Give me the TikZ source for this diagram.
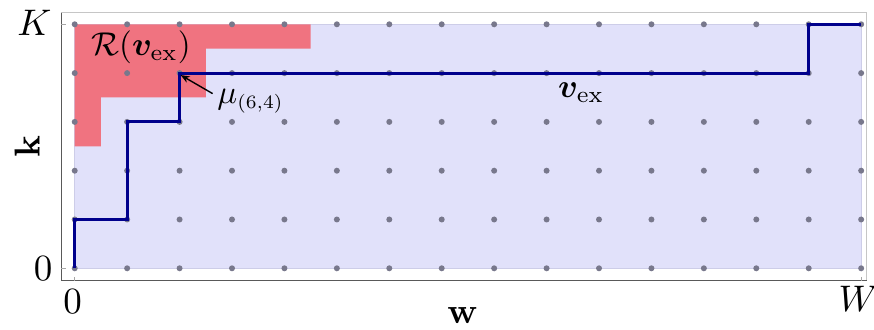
\documentclass[tikz,border=0pt]{standalone}
\usepackage{amsmath}
\usepackage{bm}
\usepackage{graphicx}
\usetikzlibrary{arrows.meta}
\definecolor{lav}{RGB}{225,225,250}
\definecolor{lavedge}{RGB}{205,205,232}
\definecolor{redreg}{RGB}{240,115,128}
\definecolor{dotc}{RGB}{120,120,140}
\definecolor{pathc}{RGB}{0,0,140}
\begin{document}
\begin{tikzpicture}[x=52.43pt,y=48.8pt,
  lbl/.style={font=\normalsize, scale=3.3, inner sep=0pt},
  ticklbl/.style={font=\normalsize, scale=3.7, inner sep=0pt},
  axlbl/.style={font=\normalsize, scale=3.6, inner sep=0pt},
  tickline/.style={gray!70, line width=0.6pt},
  axisdark/.style={black!65, line width=1pt},
  axislight/.style={gray!45, line width=0.8pt}]
\useasboundingbox (-1.425,-1.264) rectangle (15.245,5.498);
% regions
\fill[lav, draw=lavedge, line width=0.8pt] (0,0) rectangle (15,5);
\fill[redreg] (0,5) -- (4.5,5) -- (4.5,4.5) -- (2.5,4.5) -- (2.5,3.5) -- (0.5,3.5) -- (0.5,2.5) -- (0,2.5) -- cycle;
% frame
\draw[axislight] (-0.261,5.238) -- (15.106,5.238) -- (15.106,-0.254);
\draw[axisdark] (-0.261,5.238) -- (-0.261,-0.254) -- (15.106,-0.254);
\draw[tickline] (-0.261,5) -- (-0.17,5);
\draw[tickline] (-0.261,0) -- (-0.17,0);
\draw[tickline] (0,-0.254) -- (0,-0.17);
\draw[tickline] (15,-0.254) -- (15,-0.17);
% dots
\foreach \i in {0,...,15} \foreach \j in {0,...,5} \fill[dotc] (\i,\j) circle (3pt);
% path
\draw[pathc, line width=3.1pt, line join=miter] (0,0) |- (1,1) |- (2,3) |- (14,4) |- (15,5);
% labels
\node[ticklbl, anchor=east] (Klbl) at (-0.43,5.03) {$K$};
\node[ticklbl, anchor=east] (zl) at (-0.41,0) {$0$};
\node[ticklbl] (zb) at (-0.04,-0.68) {$0$};
\node[ticklbl] (Wl) at (14.95,-0.63) {$W$};
\node[axlbl, rotate=90] (kl) at (-0.91,2.5) {$\mathbf{k}$};
\node[axlbl] (wl) at (7.4,-0.96) {$\mathbf{w}$};
\node[lbl] (Rl) at (1.265,4.52) {$\mathcal{R}(\boldsymbol{v}_{\mathrm{ex}})$};
\node[lbl] (vl) at (9.66,3.6) {$\boldsymbol{v}_{\mathrm{ex}}$};
\node[lbl, anchor=west] (mul) at (2.71,3.42) {$\mu_{\scalebox{0.82}{$\scriptstyle(6,4)$}}$};
\coordinate (mupt) at (2.02,3.96);
\coordinate (mutail) at (2.63,3.58);
\draw[-{Stealth[length=9pt,width=7pt]}, line width=1.4pt] (mutail) -- (mupt);
\end{tikzpicture}
\end{document}
